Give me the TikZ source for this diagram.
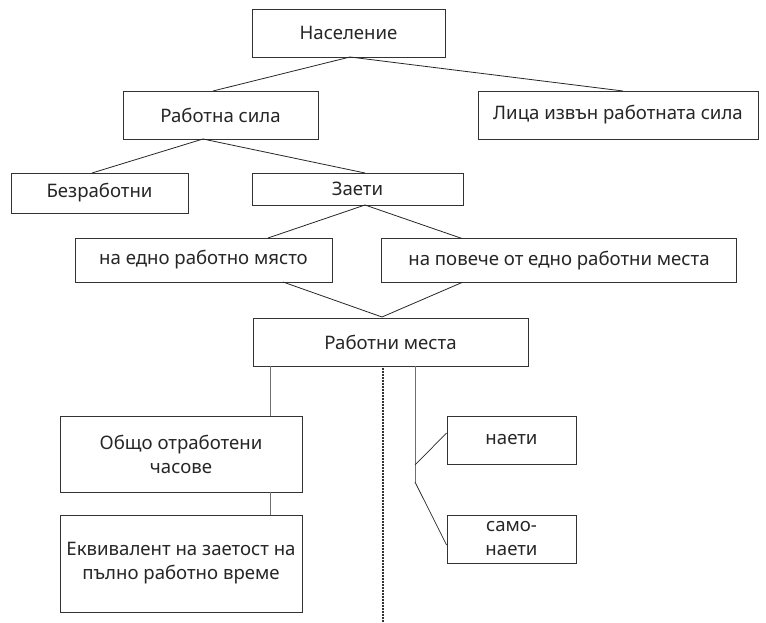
\documentclass[tikz,border=0pt]{standalone}
\usepackage{fontspec}
\setmainfont{Noto Sans}[Script=Cyrillic,Language=Bulgarian]
\usetikzlibrary{calc}
\definecolor{boxline}{HTML}{333333}
\definecolor{vline}{HTML}{707070}
\tikzset{
  box/.style={draw=boxline, line width=0.9pt, fill=white, align=center, inner sep=2pt,
    font=\fontsize{18.6}{24}\selectfont, text=black!85},
  conn/.style={draw=black!85, line width=0.8pt},
  vconn/.style={draw=vline, line width=1pt},
  dotline/.style={draw=black!80, line width=1.8pt, dash pattern=on 0.9pt off 0.6pt}
}
\begin{document}
\begin{tikzpicture}[x=1pt,y=-1pt]
\useasboundingbox (0,0) rectangle (766,623);
% boxes
\node[box, minimum width=193pt, minimum height=48pt] (pop) at (348.5,33) {Население};
\node[box, minimum width=195pt, minimum height=48pt] (lf) at (220.5,115) {Работна сила};
\node[box, minimum width=280pt, minimum height=48pt] (out) at (618,115) {Лица извън работната сила};
\node[box, minimum width=177pt, minimum height=40pt] (unemp) at (99.5,193) {Безработни};
\node[box, minimum width=211pt, minimum height=32pt] (emp) at (357.5,189) {Заети};
\node[box, minimum width=257pt, minimum height=44pt] (one) at (203.5,260) {на едно работно място};
\node[box, minimum width=355pt, minimum height=44pt] (more) at (559,260.5) {на повече от едно работни места};
\node[box, minimum width=275pt, minimum height=48pt] (jobs) at (390.5,342) {Работни места};
\node[box, minimum width=242pt, minimum height=76pt] (hours) at (181,454) {Общо отработени\\часове};
\node[box, minimum width=242pt, minimum height=97pt] (fte) at (181,563.5) {Еквивалент на заетост на\\пълно работно време};
\node[box, minimum width=129pt, minimum height=48pt] (hired) at (511.5,440) {наети};
\node[box, minimum width=129pt, minimum height=48pt] (self) at (511.5,539) {само-\\наети};
% tree connectors
\coordinate (popb) at (350,57);
\draw[conn] (popb) -- (213,91);
\draw[conn] (popb) -- (623,91);
\coordinate (lfb) at (203,139);
\draw[conn] (lfb) -- (92,173);
\draw[conn] (lfb) -- (365,173);
\coordinate (empb) at (365,205);
\draw[conn] (empb) -- (268,238);
\draw[conn] (empb) -- (462,238.5);
\coordinate (jobst) at (382,317);
\draw[conn] (283,282) -- (jobst) -- (462,282.5);
% verticals
\coordinate (hl) at ([xshift=-32pt]hours.north east);
\draw[vconn] (hl) -- (hl |- jobs.south);
\coordinate (fl) at ([xshift=-32pt]fte.north east);
\draw[vconn] (fl) -- (fl |- hours.south);
\coordinate (dtop) at (383,366);
\coordinate (dend) at (383,623);
\draw[dotline] (dtop) -- (dend);
\coordinate (rtop) at (415,366);
\coordinate (rmid) at (415,465);
\coordinate (rend) at (415,482);
\draw[vconn] (rtop) -- (rend);
\draw[conn, line width=0.7pt] (rmid) -- ([yshift=7pt]hired.west);
\draw[conn, line width=0.7pt] (rend) -- ([yshift=-6pt]self.west);
\end{tikzpicture}
\end{document}
